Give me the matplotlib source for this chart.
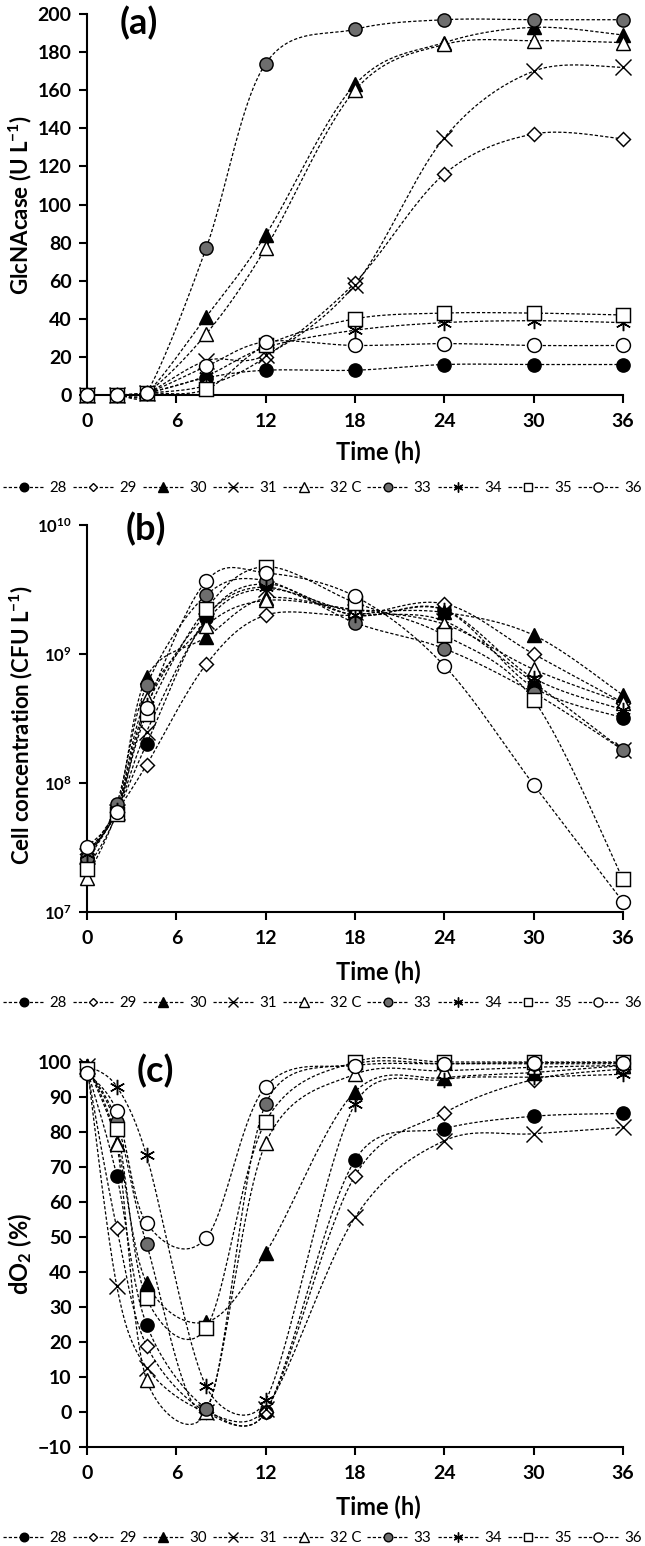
import numpy as np
import matplotlib
matplotlib.use("Agg")
import matplotlib.pyplot as plt
from matplotlib.lines import Line2D
from matplotlib.ticker import FixedLocator, FixedFormatter, NullLocator

plt.rcParams['font.family'] = ['Lato', 'DejaVu Sans']
plt.rcParams['font.weight'] = 'bold'
plt.rcParams['mathtext.fontset'] = 'custom'
plt.rcParams['mathtext.rm'] = 'Lato:bold'
plt.rcParams['mathtext.bf'] = 'Lato:bold'
plt.rcParams['mathtext.it'] = 'Lato:bold'

# sampling times (h)
time = [0, 2, 4, 8, 12, 18, 24, 30, 36]
labels = ['28', '29', '30', '31', '32 C', '33', '34', '35', '36']

# (a) GlcNAcase activity (U/L)
a28 = [0, 0, 1, 9, 13, 13, 16, 16, 16]
a29 = [0, 0, 1, 5, 20, 59, 116, 137, 134.5]
a30 = [0, 0, 1, 41, 84, 163, 185, 193, 189]
a31 = [0, 0, 1, 18, 21, 58, 135, 170, 172]
a32 = [0, 0, 1, 32, 77, 160, 184, 186, 185]
a33 = [0, 0, 1, 77, 174, 192, 197, 197, 197]
a34 = [0, 0, 1, 10, 25, 34, 38, 39, 38]
a35 = [0, 0, 1, 3, 26, 40, 43, 43, 42]
a36 = [0, 0, 1, 15, 28, 26, 27, 26, 26]

# (b) cell concentration (CFU/L)
b28 = [2.5e7, 6.0e7, 2.0e8, 1.9e9, 3.5e9, 2.0e9, 2.2e9, 5.5e8, 3.2e8]
b29 = [2.8e7, 6.0e7, 1.38e8, 8.3e8, 2.0e9, 2.0e9, 2.45e9, 1.0e9, 4.2e8]
b30 = [2.9e7, 6.3e7, 6.6e8, 1.35e9, 2.7e9, 2.2e9, 2.1e9, 1.4e9, 4.8e8]
b31 = [2.7e7, 6.0e7, 2.5e8, 1.8e9, 3.2e9, 2.1e9, 1.8e9, 6.0e8, 1.8e8]
b32 = [1.85e7, 6.0e7, 4.5e8, 1.66e9, 2.6e9, 2.2e9, 1.7e9, 7.6e8, 4.2e8]
b33 = [2.6e7, 6.9e7, 5.7e8, 2.86e9, 3.7e9, 1.75e9, 1.1e9, 5.0e8, 1.8e8]
b34 = [2.8e7, 6.2e7, 4.0e8, 2.0e9, 3.3e9, 2.0e9, 2.2e9, 6.5e8, 3.7e8]
b35 = [2.15e7, 5.8e7, 3.4e8, 2.24e9, 4.75e9, 2.5e9, 1.4e9, 4.4e8, 1.8e7]
b36 = [3.2e7, 6.0e7, 3.8e8, 3.67e9, 4.26e9, 2.8e9, 8.1e8, 9.7e7, 1.2e7]

# (c) dissolved oxygen (%)
c28 = [98, 67.5, 25, 1, 0, 72, 81, 84.5, 85.3]
c29 = [98, 52.5, 19, 0, 0, 67.5, 85.5, 95, 98]
c30 = [99, 77, 37, 25.7, 45.5, 91.5, 95.5, 97, 99]
c31 = [99, 36, 12.7, 0, 1, 55.6, 77.5, 79.5, 81.3]
c32 = [99, 76.5, 9.2, 0, 76.8, 96.5, 97.5, 98.5, 99]
c33 = [98, 83, 48, 1, 88, 99.5, 99.5, 99.5, 99.5]
c34 = [99, 93, 73.3, 7.3, 3.3, 88, 95, 95.7, 96.5]
c35 = [98, 81, 32.5, 24, 83, 100, 100, 100, 100]
c36 = [97, 86, 54, 49.7, 93, 99, 99.5, 99.8, 99.8]

panel_a = [a28, a29, a30, a31, a32, a33, a34, a35, a36]
panel_b = [b28, b29, b30, b31, b32, b33, b34, b35, b36]
panel_c = [c28, c29, c30, c31, c32, c33, c34, c35, c36]

# marker styles (marker, face, size)
styles = [
    ('o', 'black', 9.5),
    ('D', 'white', 7.0),
    ('^', 'black', 10),
    ('x', 'none', 11),
    ('^', 'white', 10),
    ('o', '#6e6e6e', 9.5),
    ((6, 2, 0), 'none', 11),
    ('s', 'white', 9.5),
    ('o', 'white', 10),
]

DASH = (0, (2.6, 1.6))


def smooth_px(p, n=24):
    # excel-like smoothed line, computed in pixel space
    out = []
    N = len(p)
    tang = []
    for i in range(N):
        prv = p[i - 1] if i > 0 else p[i]
        nxt = p[i + 1] if i < N - 1 else p[i]
        tang.append((nxt - prv) / 6)
    for i in range(N - 1):
        p1, p2 = p[i], p[i + 1]
        seglen = np.hypot(*(p2 - p1))
        t1, t2 = tang[i], tang[i + 1]
        l1, l2 = np.hypot(*t1), np.hypot(*t2)
        if l1 > 0.5 * seglen:
            t1 = t1 * 0.5 * seglen / l1
        if l2 > 0.5 * seglen:
            t2 = t2 * 0.5 * seglen / l2
        c1, c2 = p1 + t1, p2 - t2
        t = np.linspace(0, 1, n)[:, None]
        seg = (1 - t) ** 3 * p1 + 3 * (1 - t) ** 2 * t * c1 + 3 * (1 - t) * t ** 2 * c2 + t ** 3 * p2
        out.append(seg if i == 0 else seg[1:])
    return np.vstack(out)


W, H = 645, 1546
fig = plt.figure(figsize=(W / 100, H / 100), dpi=100)


def px_axes(top, bottom, left=87, right=623):
    return fig.add_axes([left / W, 1 - bottom / H, (right - left) / W, (bottom - top) / H])


def draw(ax, series):
    for vals, (m, fc, ms) in zip(series, styles):
        pts = ax.transData.transform(np.column_stack([time, vals]))
        curve = ax.transData.inverted().transform(smooth_px(pts))
        ax.plot(curve[:, 0], curve[:, 1], color='black', lw=0.9, ls=DASH, zorder=2, clip_on=False)
    for vals, (m, fc, ms) in zip(series, styles):
        ax.plot(time, vals, ls='none', marker=m, ms=ms, mfc=fc, mec='black',
                mew=1.05, zorder=3, clip_on=False)


def style_axes(ax):
    for s in ['top', 'right']:
        ax.spines[s].set_visible(False)
    for s in ['left', 'bottom']:
        ax.spines[s].set_linewidth(1.5)
    ax.set_xlim(0, 36)
    ax.set_xticks([0, 6, 12, 18, 24, 30, 36])
    ax.tick_params(axis='both', direction='out', length=6, width=1.5, labelsize=14)
    ax.tick_params(axis='x', pad=7)
    ax.tick_params(axis='y', pad=5)
    for lab in ax.get_xticklabels() + ax.get_yticklabels():
        lab.set_fontweight('bold')


legend_handles = [Line2D([0], [0], color='black', lw=0.9, ls=DASH, marker=m,
                         ms=ms * 0.65, mfc=fc, mec='black', mew=1.0)
                  for (m, fc, ms) in styles]


def add_legend(ycenter):
    fig.legend(legend_handles, labels, loc='center', bbox_to_anchor=(0.5, 1 - ycenter / H),
               ncol=9, frameon=False, handlelength=2.7, handletextpad=0.4,
               columnspacing=0.4, borderaxespad=0, borderpad=0,
               prop={'family': ['Lato', 'DejaVu Sans'], 'weight': 'normal', 'size': 10.8})


# (a)
ax1 = px_axes(14, 395)
style_axes(ax1)
ax1.set_ylim(0, 200)
ax1.set_yticks(range(0, 201, 20))
draw(ax1, panel_a)
ax1.text(0.097, 0.975, '(a)', transform=ax1.transAxes, ha='center', va='center',
         fontsize=26, fontweight='bold')
fig.text(20 / W, 1 - 205 / H, 'GlcNAcase (U L$^{\\mathbf{-1}}$)', rotation=90,
         ha='center', va='center', fontsize=16, fontweight='bold')
fig.text(378 / W, 1 - 452 / H, 'Time (h)', ha='center', va='center', fontsize=17, fontweight='bold')
add_legend(488)

# (b)
ax2 = px_axes(525, 912)
ax2.set_yscale('log')
style_axes(ax2)
ax2.set_ylim(1e7, 1e10)
ax2.yaxis.set_major_locator(FixedLocator([1e7, 1e8, 1e9, 1e10]))
ax2.yaxis.set_major_formatter(FixedFormatter(['$\\mathbf{10^{7}}$', '$\\mathbf{10^{8}}$',
                                              '$\\mathbf{10^{9}}$', '$\\mathbf{10^{10}}$']))
ax2.yaxis.set_minor_locator(NullLocator())
ax2.tick_params(axis='y', labelsize=12)
draw(ax2, panel_b)
ax2.text(0.11, 0.99, '(b)', transform=ax2.transAxes, ha='center', va='center',
         fontsize=26, fontweight='bold')
fig.text(21 / W, 1 - 725 / H, 'Cell concentration (CFU L$^{\\mathbf{-1}}$)', rotation=90,
         ha='center', va='center', fontsize=16, fontweight='bold')
fig.text(378 / W, 1 - 972 / H, 'Time (h)', ha='center', va='center', fontsize=17, fontweight='bold')
add_legend(1003)

# (c)
ax3 = px_axes(1062, 1447)
style_axes(ax3)
ax3.set_ylim(-10, 100)
ax3.set_yticks(range(-10, 101, 10))
draw(ax3, panel_c)
ax3.text(0.127, 0.977, '(c)', transform=ax3.transAxes, ha='center', va='center',
         fontsize=26, fontweight='bold')
fig.text(20 / W, 1 - 1254 / H, 'dO$_{\\mathbf{2}}$ (%)', rotation=90,
         ha='center', va='center', fontsize=17, fontweight='bold')
fig.text(378 / W, 1 - 1507 / H, 'Time (h)', ha='center', va='center', fontsize=17, fontweight='bold')
add_legend(1538)

fig.savefig('out.png', dpi=100)
